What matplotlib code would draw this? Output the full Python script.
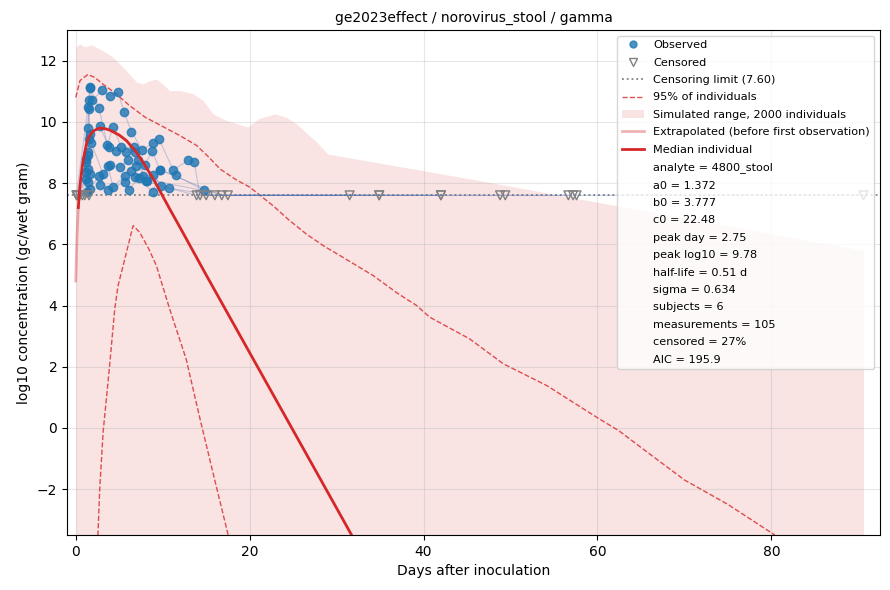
import matplotlib
matplotlib.use("Agg")
import matplotlib.pyplot as plt
from matplotlib.lines import Line2D
from matplotlib.patches import Patch
import numpy as np

# observed samples per subject (day, log10 gc/wet gram)
subj_obs = {
    "A": ([1.42, 1.61, 1.9, 3.03, 3.99, 4.87, 5.56, 6.41, 7.63, 8.9, 9.59, 11.2, 12.92, 13.61],
          [10.48, 11.13, 10.70, 11.03, 10.84, 10.98, 10.32, 9.68, 9.09, 9.30, 9.44, 8.43, 8.74, 8.70]),
    "B": ([1.23, 1.5, 1.67, 2.68, 3.65, 4.29, 5.26, 6.71, 7.94, 8.78, 9.72, 11.5, 14.76],
          [8.79, 10.41, 11.10, 10.45, 9.25, 9.83, 9.17, 9.17, 8.60, 9.04, 8.42, 8.25, 7.76]),
    "C": ([1.42, 1.53, 1.61, 2.76, 3.83, 4.68, 5.83, 6.87, 7.74, 8.9, 9.86],
          [9.80, 10.73, 9.61, 9.87, 9.17, 9.06, 9.01, 9.01, 8.24, 8.28, 7.90]),
    "D": ([1.23, 1.53, 1.81, 3.14, 3.91, 5.06, 6.02, 6.9, 7.17, 8.2, 8.13, 10.74],
          [8.68, 9.44, 9.30, 8.30, 8.59, 8.52, 8.74, 8.55, 8.74, 8.06, 8.08, 7.83]),
    "E": ([1.38, 1.42, 1.45, 2.84, 3.72, 4.29, 5.64, 6.33, 6.79, 8.9, 9.72],
          [9.03, 8.92, 8.46, 7.94, 8.55, 7.87, 8.24, 8.38, 8.19, 7.72, 8.42]),
    "F": ([1.15, 1.23, 1.27, 1.42, 1.6, 1.63, 2.68, 3.72, 5.72, 6.13, 7.25],
          [8.14, 8.36, 7.71, 8.03, 8.30, 7.81, 8.23, 7.79, 8.03, 7.79, 8.17]),
}

# censored samples per subject (day)
subj_cens = {
    "A": [0.08, 14.3, 34.9, 42.0],
    "B": [0.46, 15.0, 31.5],
    "C": [0.77, 13.9, 34.9],
    "D": [1.04, 16.0, 42.0],
    "E": [0.12, 16.8, 48.8, 56.66],
    "F": [0.2, 1.53, 17.5, 49.4, 57.2, 57.6, 90.6],
}

cens_limit = 7.60

# simulated range (upper edge), 2000 individuals
sim_day = [0.0, 0.46, 1.0, 1.8, 3.1, 4.3, 5.8, 7.0, 7.75, 8.5, 9.3, 10.0, 10.8, 12.0,
           13.5, 14.65, 15.8, 17.3, 19.8, 21.0, 22.9, 24.2, 25.4, 27.7, 29.0, 45.3,
           62.2, 90.6]
sim_hi = [12.44, 12.55, 12.45, 12.52, 12.33, 12.11, 11.68, 11.30, 11.24, 11.35, 11.40,
          11.24, 11.02, 11.02, 10.92, 10.70, 10.26, 10.05, 9.83, 10.10, 10.26, 10.15,
          9.93, 9.34, 8.95, 8.14, 7.26, 5.80]
sim_lo = [-6.0] * len(sim_day)

# 95% of individuals
up_day = [0.0, 0.5, 1.4, 2.2, 3.1, 4.5, 6.2, 8.0, 10.0, 12.0, 13.9, 15.3, 16.6, 18.5,
          20.0, 21.2, 22.7, 24.5, 26.5, 28.5, 30.4, 34.2, 37.0, 39.2, 40.7, 45.3, 49.2,
          54.2, 59.9, 62.5, 66.0, 70.0, 75.0, 80.4]
up_val = [10.8, 11.35, 11.55, 11.45, 11.24, 10.95, 10.53, 10.15, 9.85, 9.55, 9.23, 8.85,
          8.46, 8.10, 7.87, 7.60, 7.26, 6.80, 6.34, 5.95, 5.63, 4.98, 4.40, 4.00, 3.62,
          2.91, 2.09, 1.38, 0.35, -0.10, -0.85, -1.70, -2.50, -3.50]
lo_day = [2.4, 2.57, 2.76, 3.15, 3.9, 4.49, 4.87, 5.45, 6.6, 7.36, 8.4, 9.28, 10.8,
          12.7, 14.3, 15.9, 17.5, 17.8]
lo_val = [-4.0, -3.41, -2.0, -0.14, 2.04, 3.89, 4.65, 5.30, 6.61, 6.39, 5.85, 5.30,
          3.89, 2.25, 0.29, -1.60, -3.46, -3.90]

# median individual
ext_day = [0.0, 0.15, 0.3]
ext_val = [4.8, 6.3, 7.2]
med_day = [0.3, 0.5, 0.75, 1.0, 1.25, 1.5, 2.0, 2.75, 3.5, 4.0, 5.0, 5.83, 7.0, 7.75,
           9.0, 10.8, 12.0, 15.0, 20.0, 25.0, 30.0, 32.0]
med_val = [7.2, 7.95, 8.55, 8.95, 9.3, 9.5, 9.7, 9.8, 9.77, 9.72, 9.57, 9.39, 9.0, 8.68,
           8.1, 7.16, 6.55, 5.0, 2.46, -0.08, -2.62, -3.64]

stats = ["analyte = 4800_stool", "a0 = 1.372", "b0 = 3.777", "c0 = 22.48",
         "peak day = 2.75", "peak log10 = 9.78", "half-life = 0.51 d", "sigma = 0.634",
         "subjects = 6", "measurements = 105", "censored = 27%", "AIC = 195.9"]


def main():
    fig = plt.figure(figsize=(8.9, 5.9), dpi=100)
    ax = fig.add_subplot()
    fig.subplots_adjust(left=0.0753, right=0.9888, top=0.949, bottom=0.0932)

    ax.fill_between(sim_day, sim_lo, sim_hi, color="tab:red", alpha=0.13, linewidth=0)
    ax.plot(up_day, up_val, "--", color="tab:red", alpha=0.8, lw=1)
    ax.plot(lo_day, lo_val, "--", color="tab:red", alpha=0.8, lw=1)
    ax.axhline(cens_limit, color="gray", ls=":", lw=1.3)

    for key in subj_obs:
        d_obs, v_obs = subj_obs[key]
        d_c = subj_cens[key]
        days = list(d_obs) + list(d_c)
        vals = list(v_obs) + [cens_limit] * len(d_c)
        order = np.argsort(days)
        ax.plot(np.array(days)[order], np.array(vals)[order], color="#4a6fb5",
                alpha=0.3, lw=0.8, zorder=2)

    all_d = [d for k in subj_obs for d in subj_obs[k][0]]
    all_v = [v for k in subj_obs for v in subj_obs[k][1]]
    ax.scatter(all_d, all_v, s=36, color="#1f77b4", alpha=0.8, zorder=3)
    cens_d = [d for k in subj_cens for d in subj_cens[k]]
    ax.scatter(cens_d, [cens_limit] * len(cens_d), s=40, marker="v",
               facecolors="none", edgecolors="gray", linewidths=1, zorder=3)

    ax.plot(ext_day, ext_val, color="tab:red", alpha=0.35, lw=2, zorder=4)
    ax.plot(med_day, med_val, color="tab:red", lw=2, zorder=4)

    ax.set_xlim(-1.0, 92.5)
    ax.set_ylim(-3.5, 13.0)
    ax.set_xticks([0, 20, 40, 60, 80])
    ax.grid(True, alpha=0.3)
    ax.set_xlabel("Days after inoculation")
    ax.set_ylabel("log10 concentration (gc/wet gram)")
    ax.set_title("ge2023effect / norovirus_stool / gamma", fontsize=10)

    handles = [
        Line2D([], [], marker="o", ls="none", color="#1f77b4", alpha=0.8, markersize=5),
        Line2D([], [], marker="v", ls="none", markerfacecolor="none",
               markeredgecolor="gray", markersize=6),
        Line2D([], [], color="gray", ls=":", lw=1.3),
        Line2D([], [], color="tab:red", ls="--", alpha=0.8, lw=1),
        Patch(facecolor="tab:red", alpha=0.13),
        Line2D([], [], color="tab:red", alpha=0.35, lw=2),
        Line2D([], [], color="tab:red", lw=2),
    ]
    labels = ["Observed", "Censored", "Censoring limit (7.60)", "95% of individuals",
              "Simulated range, 2000 individuals", "Extrapolated (before first observation)",
              "Median individual"]
    for s in stats:
        handles.append(Line2D([], [], color="none"))
        labels.append(s)
    ax.legend(handles, labels, loc="upper right", fontsize=8.1, labelspacing=0.66)

    fig.savefig("out.png", dpi=100)


if __name__ == "__main__":
    main()
